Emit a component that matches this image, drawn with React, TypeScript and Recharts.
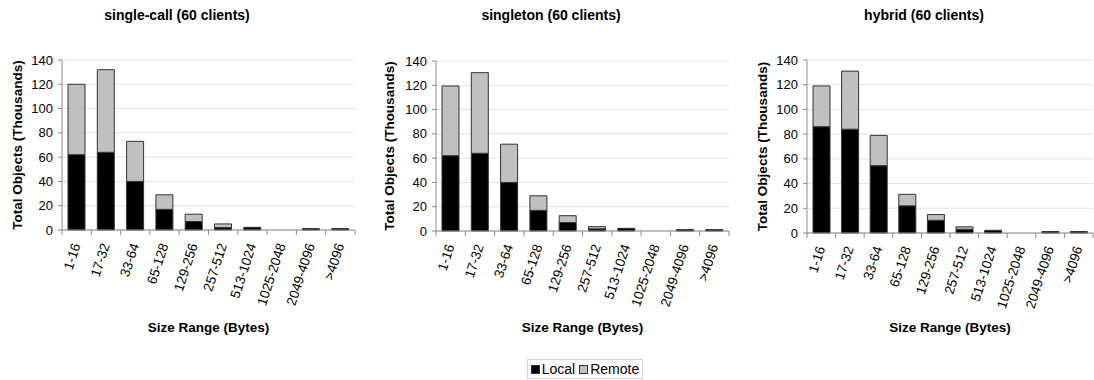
import React from 'react';
import { BarChart, Bar, XAxis, YAxis, CartesianGrid } from 'recharts';

const categories = ['1-16', '17-32', '33-64', '65-128', '129-256', '257-512', '513-1024', '1025-2048', '2049-4096', '>4096'];

const singleCallLocal = [62, 64, 40, 17, 7, 2, 2.2, 0, 1.2, 1.2];
const singleCallRemote = [58, 68, 33, 12, 6, 3, 0, 0, 0, 0];

const singletonLocal = [62, 64, 40, 17, 7, 1.8, 2.2, 0, 1.2, 1.2];
const singletonRemote = [57.4, 66.4, 31.5, 12, 5.6, 1.8, 0, 0, 0, 0];

const hybridLocal = [86, 84, 54.5, 22, 10.3, 3, 2.2, 0, 1.2, 1.2];
const hybridRemote = [33, 47, 24.5, 9.3, 4.6, 2, 0, 0, 0, 0];

const yTicks = [0, 20, 40, 60, 80, 100, 120, 140];

const titles = ['single-call (60 clients)', 'singleton (60 clients)', 'hybrid (60 clients)'];

const FONT = '"Liberation Sans", Arial, Helvetica, sans-serif';
const AXIS_GRAY = '#8a8a8a';

const build = (local: number[], remote: number[]) =>
  categories.map((c, i) => ({ category: c, local: local[i], remote: remote[i] }));

const XTick = (props: any) => {
  const { x, y, payload, index, visibleTicksCount } = props;
  const half = payload && payload.offset ? payload.offset : 14.6;
  const axisY = y - 6;
  const ax = x + 4;
  const ay = axisY + 15;
  const last = visibleTicksCount ? index === visibleTicksCount - 1 : index === categories.length - 1;
  return (
    <g>
      <line x1={x - half} x2={x - half} y1={axisY} y2={axisY + 5} stroke={AXIS_GRAY} />
      {last && <line x1={x + half} x2={x + half} y1={axisY} y2={axisY + 5} stroke={AXIS_GRAY} />}
      <text
        x={ax}
        y={ay}
        textAnchor="end"
        transform={`rotate(-72 ${ax} ${ay})`}
        fontSize={13.5}
        fontFamily={FONT}
        fill="#000"
      >
        {payload.value}
      </text>
    </g>
  );
};

const makeYLabel = (dx: number) => (props: any) => {
  const vb = props.viewBox || {};
  const tx = (vb.x || 0) + dx;
  const ty = (vb.y || 0) + (vb.height || 0) / 2;
  return (
    <text
      x={tx}
      y={ty}
      transform={`rotate(-90 ${tx} ${ty})`}
      textAnchor="middle"
      dominantBaseline="central"
      fontSize={13.5}
      fontWeight="bold"
      fontFamily={FONT}
      fill="#000"
    >
      Total Objects (Thousands)
    </text>
  );
};

type Cfg = {
  left: number;
  plotLeft: number;
  plotRight: number;
  top: number;
  bottom: number;
  yLabelX: number;
  titleX: number;
  data: { category: string; local: number; remote: number }[];
  title: string;
};

const H = 340;

const configs: Cfg[] = [
  { left: 0, plotLeft: 62, plotRight: 355, top: 60, bottom: 230, yLabelX: 17, titleX: 177, data: build(singleCallLocal, singleCallRemote), title: titles[0] },
  { left: 370, plotLeft: 436, plotRight: 729, top: 61, bottom: 231, yLabelX: 389, titleX: 551, data: build(singletonLocal, singletonRemote), title: titles[1] },
  { left: 740, plotLeft: 807, plotRight: 1093, top: 60, bottom: 233, yLabelX: 762, titleX: 924, data: build(hybridLocal, hybridRemote), title: titles[2] },
];

const Panel = ({ cfg }: { cfg: Cfg }) => {
  const width = cfg.plotRight - cfg.left + 1;
  return (
    <div style={{ position: 'absolute', left: cfg.left, top: 0, width, height: H }}>
      <BarChart
        width={width}
        height={H}
        data={cfg.data}
        margin={{ top: cfg.top, right: 1, left: 0, bottom: 0 }}
        barSize={17}
      >
        <CartesianGrid vertical={false} stroke="#e2e2e2" />
        <XAxis
          dataKey="category"
          type="category"
          interval={0}
          height={H - cfg.bottom}
          tickLine={false}
          tickSize={6}
          tickMargin={0}
          axisLine={{ stroke: AXIS_GRAY }}
          tick={<XTick />}
          label={{
            value: 'Size Range (Bytes)',
            position: 'insideBottom',
            offset: 8,
            style: { fontSize: 13.5, fontWeight: 'bold', fontFamily: FONT, fill: '#000' },
          }}
        />
        <XAxis xAxisId="top" dataKey="category" orientation="top" height={0} tick={false} tickLine={false} axisLine={{ stroke: AXIS_GRAY }} />
        <YAxis
          width={cfg.plotLeft - cfg.left}
          domain={[0, 140]}
          ticks={yTicks}
          interval={0}
          tickSize={4}
          tickMargin={5}
          tickLine={{ stroke: AXIS_GRAY }}
          axisLine={{ stroke: AXIS_GRAY }}
          tick={{ fontSize: 13, fontFamily: FONT, fill: '#000' }}
          label={{ content: makeYLabel(cfg.yLabelX - cfg.left) }}
        />
        <YAxis yAxisId="right" orientation="right" width={0} domain={[0, 140]} tick={false} tickLine={false} axisLine={{ stroke: AXIS_GRAY }} />
        <Bar dataKey="local" stackId="s" fill="#000000" stroke="#333333" strokeWidth={1} barSize={17} isAnimationActive={false} />
        <Bar dataKey="remote" stackId="s" fill="#c0c0c0" stroke="#333333" strokeWidth={1} barSize={17} isAnimationActive={false} />
      </BarChart>
      <div
        style={{
          position: 'absolute',
          left: cfg.titleX - cfg.left - 120,
          width: 240,
          top: 6,
          textAlign: 'center',
          fontFamily: FONT,
          fontWeight: 'bold',
          fontSize: 14,
          lineHeight: '18px',
          color: '#000',
          whiteSpace: 'nowrap',
        }}
      >
        {cfg.title}
      </div>
    </div>
  );
};

const Swatch = ({ color }: { color: string }) => (
  <span style={{ display: 'inline-block', width: 7, height: 7, background: color, border: '1px solid #333', marginRight: 2 }} />
);

export default function App() {
  return (
    <div style={{ position: 'absolute', left: 0, top: 0, width: 1094, height: 380, background: '#fff', overflow: 'hidden' }}>
      {configs.map((c, i) => (
        <Panel key={i} cfg={c} />
      ))}
      <div
        style={{
          position: 'absolute',
          left: 527,
          top: 359,
          width: 114,
          height: 18,
          border: '1px solid #d4d4d4',
          display: 'flex',
          alignItems: 'center',
          justifyContent: 'center',
          fontFamily: FONT,
          fontSize: 14,
          color: '#000',
          whiteSpace: 'nowrap',
        }}
      >
        <Swatch color="#000" />
        <span style={{ marginRight: 4 }}>Local</span>
        <Swatch color="#c0c0c0" />
        <span>Remote</span>
      </div>
    </div>
  );
}
